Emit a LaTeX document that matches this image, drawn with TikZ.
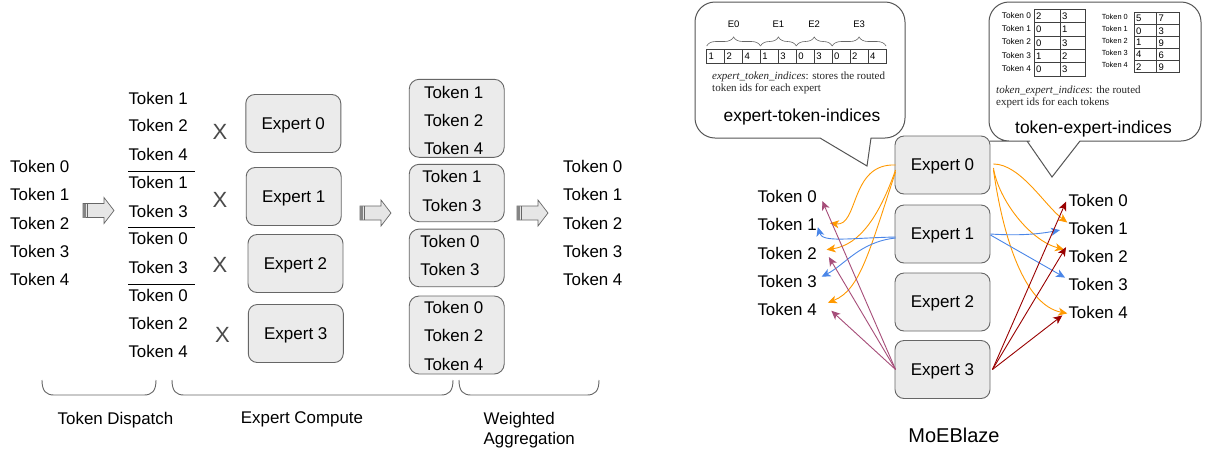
\documentclass[tikz,border=0pt]{standalone}
\usepackage{fontspec}
\setmainfont{Liberation Sans}
\newfontfamily\descfont{Liberation Serif}
\usetikzlibrary{arrows.meta,decorations.pathreplacing,calc}
\definecolor{boxfill}{HTML}{EBEBEB}
\definecolor{boxline}{HTML}{666666}
\definecolor{bubline}{HTML}{555555}
\definecolor{xgray}{HTML}{4A4A4A}
\definecolor{arrfill}{HTML}{E6E6E6}
\definecolor{aorange}{HTML}{FF9900}
\definecolor{ablue}{HTML}{4A86E8}
\definecolor{apurple}{HTML}{A64D79}
\definecolor{ared}{HTML}{990000}
\tikzset{blockarrow/.pic={
  \draw[fill=arrfill, draw=boxline, line width=0.7pt] (0,-7) -- (21,-7) -- (21,-13) -- (31,0) -- (21,13) -- (21,7) -- (0,7) -- cycle;
  \fill[boxline!80] (0,-7) rectangle (3,7);
  \draw[boxline, line width=0.5pt] (4.6,-7) -- (4.6,7);
}}
\begin{document}
\begin{tikzpicture}[x=1pt,y=-1pt,
  tok/.style={font=\fontsize{16.9}{18}\selectfont, inner sep=0pt, anchor=west, text depth=0pt},
  ctok/.style={font=\fontsize{16.9}{18}\selectfont, inner sep=0pt, text depth=0pt},
  expbox/.style={draw=boxline, fill=boxfill, line width=0.9pt, rounded corners=9pt, minimum width=95pt, minimum height=58pt, font=\fontsize{17}{20}\selectfont, text depth=0pt, inner sep=0pt},
  grp/.style={draw=boxline, fill=boxfill, line width=0.9pt, rounded corners=10pt, minimum width=95pt, inner sep=0pt},
  xmark/.style={font=\fontsize{22}{24}\selectfont, text=xgray, inner sep=0pt},
  bubble/.style={draw=bubline, fill=white, line width=1pt},
  cellline/.style={draw=black!75, line width=0.6pt},
  small/.style={font=\fontsize{9.5}{11}\selectfont, inner sep=0pt, text depth=0pt},
  desc/.style={font=\descfont\fontsize{11}{12}\selectfont, inner sep=0pt, anchor=base west, text=black!85},
  lbl/.style={font=\fontsize{16.9}{19}\selectfont, inner sep=0pt, text depth=0pt},
  bracket/.style={draw=boxline, line width=0.9pt},
  conn/.style={line width=0.9pt, -{Stealth[length=9pt,width=8pt,inset=2.5pt]}},
]
\fill[white] (0,0) rectangle (1205,451);
\useasboundingbox (0,0) rectangle (1205,451);

% ================= LEFT PANEL =================
\foreach \i in {0,...,4} \node[tok] (a\i) at (10,166.7+28.15*\i) {Token \i};
\pic at (83,210.5) {blockarrow};

\foreach \y/\t [count=\k] in {98.3/1,125.7/2,154/4,182.7/1,211/3,238.3/0,267.3/3,295/0,323.3/2,351.7/4}
  \node[tok] (d\k) at (128.3,\y) {Token \t};
\draw[line width=0.9pt] (128,171) -- (195,171);
\draw[line width=0.9pt] (128,227.7) -- (195,227.7);
\draw[line width=0.9pt] (128,284) -- (195,284);

\node[xmark] (x0) at (220,132) {X};
\node[xmark] (x1) at (220,200) {X};
\node[xmark] (x2) at (220,265) {X};
\node[xmark] (x3) at (222.5,335) {X};

\node[expbox] (le0) at (293.3,123.5) {Expert 0};
\node[expbox] (le1) at (293.7,196.5) {Expert 1};
\node[expbox] (le2) at (295.5,263.5) {Expert 2};
\node[expbox] (le3) at (295.8,333.5) {Expert 3};

\pic at (360,213) {blockarrow};

\node[grp, minimum height=78pt] (ga) at (456.7,118.3) {};
\node[ctok] at (453.7,92.3) {Token 1};
\node[ctok] at (453.7,120.7) {Token 2};
\node[ctok] at (453.7,148.3) {Token 4};
\node[grp, minimum height=57.4pt] (gb) at (456.7,193) {};
\node[ctok] at (452,176.7) {Token 1};
\node[ctok] at (452,205) {Token 3};
\node[grp, minimum height=57.7pt] (gc) at (456.7,257.9) {};
\node[ctok] at (450,241.7) {Token 0};
\node[ctok] at (450,269.3) {Token 3};
\node[grp, minimum height=78pt] (gd) at (456.7,335) {};
\node[ctok] at (453.7,307.7) {Token 0};
\node[ctok] at (453.7,335.7) {Token 2};
\node[ctok] at (453.7,364) {Token 4};

\pic at (517,213) {blockarrow};

\foreach \i in {0,...,4} \node[tok] (w\i) at (563,166.7+28.15*\i) {Token \i};

% bottom brackets
\draw[bracket] (42,380) .. controls (42,391) and (46,395) .. (54,395) -- (144,395) .. controls (152,395) and (156,391) .. (156,380);
\draw[bracket] (172,380) .. controls (172,391) and (176,395) .. (184,395) -- (441,395) .. controls (449,395) and (453,391) .. (453,380);
\draw[bracket] (459,380) .. controls (459,391) and (463,395) .. (471,395) -- (587,395) .. controls (595,395) and (599,391) .. (599,380);
\node[lbl] (l1) at (115.5,418) {Token Dispatch};
\node[lbl] (l2) at (302,418) {Expert Compute};
\node[lbl, anchor=west] (l3) at (483.5,418) {Weighted};
\node[lbl, anchor=west] (l4) at (483.5,438.5) {Aggregation};

% ================= RIGHT PANEL =================
% bubble 1
\draw[bubble] (820,138) -- (867,166) -- (871,138) -- (885,138) [rounded corners=20pt] -- (905,138) -- (905,2) -- (695,2) -- (695,138) -- (800,138) [sharp corners] -- cycle;
% bubble 2
\draw[bubble] (1027,141) -- (1052,177) -- (1080,141) -- (1100,141) [rounded corners=20pt] -- (1201,141) -- (1201,2) -- (989,2) -- (989,141) -- (1010,141) [sharp corners] -- cycle;

% bubble 1 contents
\foreach \v [count=\k from 0] in {1,2,4,1,3,0,3,0,2,4}
  \node[small, anchor=west] (c\k) at (708.5+17.93*\k,56.3) {\v};
\draw[cellline] (706.7,49.3) rectangle (886,63.3);
\foreach \k in {1,...,9} \draw[cellline] (706.7+17.93*\k,49.3) -- (706.7+17.93*\k,63.3);
\draw[draw=boxline, line width=0.6pt, decorate, decoration={brace, amplitude=9pt}] (706.7,46) -- (760.5,46);
\draw[draw=boxline, line width=0.6pt, decorate, decoration={brace, amplitude=9pt}] (760.5,46) -- (796.3,46);
\draw[draw=boxline, line width=0.6pt, decorate, decoration={brace, amplitude=9pt}] (796.3,46) -- (832.2,46);
\draw[draw=boxline, line width=0.6pt, decorate, decoration={brace, amplitude=9pt}] (832.2,46) -- (886,46);
\node[small] (e0) at (733.6,24) {E0};
\node[small] (e1) at (778.4,24) {E1};
\node[small] (e2) at (814.2,24) {E2};
\node[small] (e3) at (859.1,24) {E3};
\node[desc] (t1a) at (712,79.5) {\textit{expert\_token\_indices}: stores the routed};
\node[desc] (t1b) at (712,91) {token ids for each expert};
\node[font=\fontsize{17.4}{20}\selectfont, inner sep=0pt] (b1) at (802,117) {expert-token-indices};

% bubble 2 contents: table 1
\foreach \a/\b [count=\k from 0] in {2/3,0/1,0/3,1/2,0/3}{
  \node[font=\fontsize{8.3}{10}\selectfont, inner sep=0pt, anchor=west, text depth=0pt] (p\k) at (1001.7,15.2+13.34*\k) {Token \k};
  \node[small, anchor=west] (pa\k) at (1036,16+13.34*\k) {\a};
  \node[small, anchor=west] (pb\k) at (1062,16+13.34*\k) {\b};
}
\draw[cellline] (1034.3,9.3) rectangle (1085.7,76);
\draw[cellline] (1060,9.3) -- (1060,76);
\foreach \k in {1,...,4} \draw[cellline] (1034.3,9.3+13.34*\k) -- (1085.7,9.3+13.34*\k);
% table 2
\foreach \a/\b [count=\k from 0] in {5/7,0/3,1/9,4/6,2/9}{
  \node[font=\fontsize{7.4}{9}\selectfont, inner sep=0pt, anchor=west, text depth=0pt] (q\k) at (1101.7,17+12*\k) {Token \k};
  \node[small, anchor=west] (qa\k) at (1136,18.7+12*\k) {\a};
  \node[small, anchor=west] (qb\k) at (1158.5,18.7+12*\k) {\b};
}
\draw[cellline] (1134.3,12.7) rectangle (1179,72.7);
\draw[cellline] (1156.7,12.7) -- (1156.7,72.7);
\foreach \k in {1,...,4} \draw[cellline] (1134.3,12.7+12*\k) -- (1179,12.7+12*\k);
\node[desc] (t2a) at (996,93.5) {\textit{token\_expert\_indices}: the routed};
\node[desc] (t2b) at (996,105) {expert ids for each tokens};
\node[font=\fontsize{17.4}{20}\selectfont, inner sep=0pt] (b2) at (1093.5,128.5) {token-expert-indices};

% experts
\node[expbox] (re0) at (942.5,165) {Expert 0};
\node[expbox] (re1) at (942.5,234) {Expert 1};
\node[expbox] (re2) at (942.5,302) {Expert 2};
\node[expbox] (re3) at (942.5,369.5) {Expert 3};

% tokens
\foreach \i in {0,...,4} \node[tok] (lt\i) at (757.3,196.7+28.15*\i) {Token \i};
\foreach \i in {0,...,4} \node[tok] (rt\i) at (1068.3,200+28.1*\i) {Token \i};

% left connectors
\draw[conn, aorange] ($(re0.west)+(1,0)$) .. controls ($(re0.west)+(-45,-2)$) and ($(lt1.east)+(42,2)$) .. ($(lt1.east)+(13,-1.7)$);
\draw[conn, aorange] ($(re0.west)+(1,5)$) .. controls ($(re0.west)+(-15,50)$) and ($(lt2.east)+(43.5,-8.3)$) .. ($(lt2.east)+(9.7,-3.3)$);
\draw[conn, aorange] ($(re0.west)+(1,7)$) .. controls ($(re0.west)+(-25,85)$) and ($(lt4.east)+(43.5,-19.3)$) .. ($(lt4.east)+(11,-6.6)$);
\draw[conn, ablue] ($(re1.west)+(1,3)$) .. controls ($(re1.west)+(-45,4)$) and ($(lt1.east)+(5.5,18)$) .. ($(lt1.east)+(1,2.3)$);
\draw[conn, ablue] ($(re1.west)+(1,4)$) .. controls ($(re1.west)+(-35,8)$) and ($(lt3.east)+(28.5,-16.7)$) .. ($(lt3.east)+(4.7,-4.4)$);
\draw[conn, apurple] ($(re3.west)+(1,0)$) -- ($(lt0.east)+(5.4,4.3)$);
\draw[conn, apurple] ($(re3.west)+(1,0)$) -- ($(lt2.east)+(12,4)$);
\draw[conn, apurple] ($(re3.west)+(1,0)$) -- ($(lt4.east)+(14.4,1.4)$);

% right connectors
\draw[conn, aorange] ($(re0.east)+(3,-1)$) .. controls ($(re0.east)+(30,-1)$) and ($(rt1.west)+(-23.3,-22.3)$) .. ($(rt1.west)+(-1,-5.6)$);
\draw[conn, aorange] ($(re0.east)+(3,3)$) .. controls ($(re0.east)+(8,35)$) and ($(rt2.west)+(-38.3,-15.7)$) .. ($(rt2.west)+(-4.3,-6.7)$);
\draw[conn, aorange] ($(re0.east)+(3,5)$) .. controls ($(re0.east)+(13,75)$) and ($(rt4.west)+(-43.3,-7.3)$) .. ($(rt4.west)+(-1,1)$);
\draw[conn, ablue] ($(re1.east)+(0,0)$) .. controls ($(re1.east)+(30,2)$) and ($(rt1.west)+(-28.3,5.7)$) .. ($(rt1.west)+(-8.3,2)$);
\draw[conn, ablue] ($(re1.east)+(0,1)$) -- ($(rt3.west)+(-3.3,-6.7)$);
\draw[conn, ared] ($(re3.east)+(2,0)$) -- ($(rt0.west)+(-2.3,1.7)$);
\draw[conn, ared] ($(re3.east)+(2,0)$) -- ($(rt2.west)+(-2.3,-9)$);
\draw[conn, ared] ($(re3.east)+(2,0)$) -- ($(rt4.west)+(-6,3)$);

\node[font=\fontsize{20}{23}\selectfont, inner sep=0pt] (moe) at (954,435) {MoEBlaze};
\end{tikzpicture}
\end{document}
